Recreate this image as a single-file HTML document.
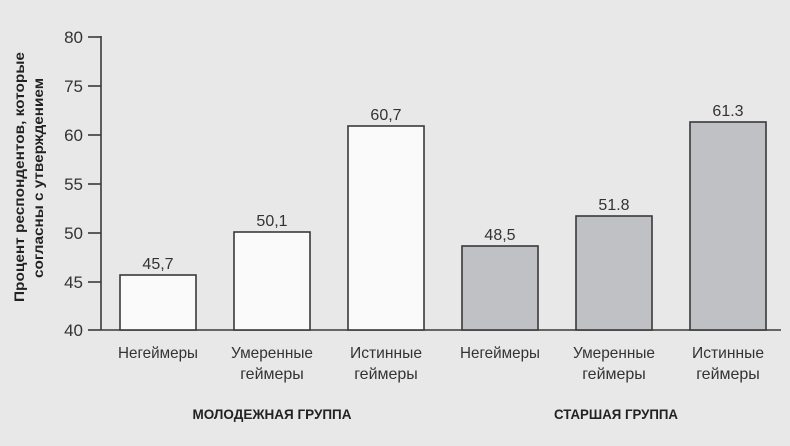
<!DOCTYPE html>
<html><head><meta charset="utf-8"><style>
body{margin:0;background:#e8e8e8;}
svg{display:block;font-family:"Liberation Sans Narrow","Liberation Sans","DejaVu Sans",sans-serif;}
</style></head><body>
<svg width="790" height="446" viewBox="0 0 790 446">
<rect width="790" height="446" fill="#e8e8e8"/>
<g stroke="#3a3a3a" stroke-width="1.6" fill="none">
<line x1="101" y1="36" x2="101" y2="330"/>
<line x1="101" y1="330" x2="781" y2="330"/>
<line x1="88" y1="37" x2="101" y2="37"/>
<line x1="88" y1="86" x2="101" y2="86"/>
<line x1="88" y1="135" x2="101" y2="135"/>
<line x1="88" y1="184" x2="101" y2="184"/>
<line x1="88" y1="233" x2="101" y2="233"/>
<line x1="88" y1="282" x2="101" y2="282"/>
<line x1="88" y1="330" x2="101" y2="330"/>
</g>
<g font-size="17" fill="#333" text-anchor="end">
<text x="83" y="43">80</text><text x="83" y="92">75</text><text x="83" y="141">60</text>
<text x="83" y="190">55</text><text x="83" y="239">50</text><text x="83" y="288">45</text><text x="83" y="336">40</text>
</g>
<g font-size="14" font-weight="bold" fill="#222">
<text transform="translate(24,302) rotate(-90)" textLength="250" lengthAdjust="spacingAndGlyphs">Процент респондентов, которые</text>
<text transform="translate(43,278) rotate(-90)" textLength="200" lengthAdjust="spacingAndGlyphs">согласны с утверждением</text>
</g>
<g stroke="#3a3a3a" stroke-width="1.6">
<rect x="120" y="275" width="76" height="55" fill="#fafafa"/>
<rect x="234" y="232" width="76" height="98" fill="#fafafa"/>
<rect x="348" y="126" width="76" height="204" fill="#fafafa"/>
<rect x="462" y="246" width="76" height="84" fill="#c0c1c4"/>
<rect x="576" y="216" width="76" height="114" fill="#c0c1c4"/>
<rect x="690" y="122" width="76" height="208" fill="#c0c1c4"/>
</g>
<g font-size="16" fill="#333" text-anchor="middle">
<text x="158" y="269">45,7</text><text x="272" y="226">50,1</text><text x="386" y="120">60,7</text>
<text x="500" y="240">48,5</text><text x="614" y="210">51.8</text><text x="728" y="116">61.3</text>
<text x="158" y="358" textLength="80" lengthAdjust="spacingAndGlyphs">Негеймеры</text>
<text x="272" y="358" textLength="82" lengthAdjust="spacingAndGlyphs">Умеренные</text><text x="272" y="379">геймеры</text>
<text x="386" y="358" textLength="72" lengthAdjust="spacingAndGlyphs">Истинные</text><text x="386" y="379">геймеры</text>
<text x="500" y="358" textLength="80" lengthAdjust="spacingAndGlyphs">Негеймеры</text>
<text x="614" y="358" textLength="82" lengthAdjust="spacingAndGlyphs">Умеренные</text><text x="614" y="379">геймеры</text>
<text x="728" y="358" textLength="72" lengthAdjust="spacingAndGlyphs">Истинные</text><text x="728" y="379">геймеры</text>
</g>
<g font-size="14" font-weight="bold" fill="#222" text-anchor="middle">
<text x="272" y="419" textLength="159" lengthAdjust="spacingAndGlyphs">МОЛОДЕЖНАЯ ГРУППА</text>
<text x="616" y="419" textLength="124" lengthAdjust="spacingAndGlyphs">СТАРШАЯ ГРУППА</text>
</g>
</svg>
</body></html>
